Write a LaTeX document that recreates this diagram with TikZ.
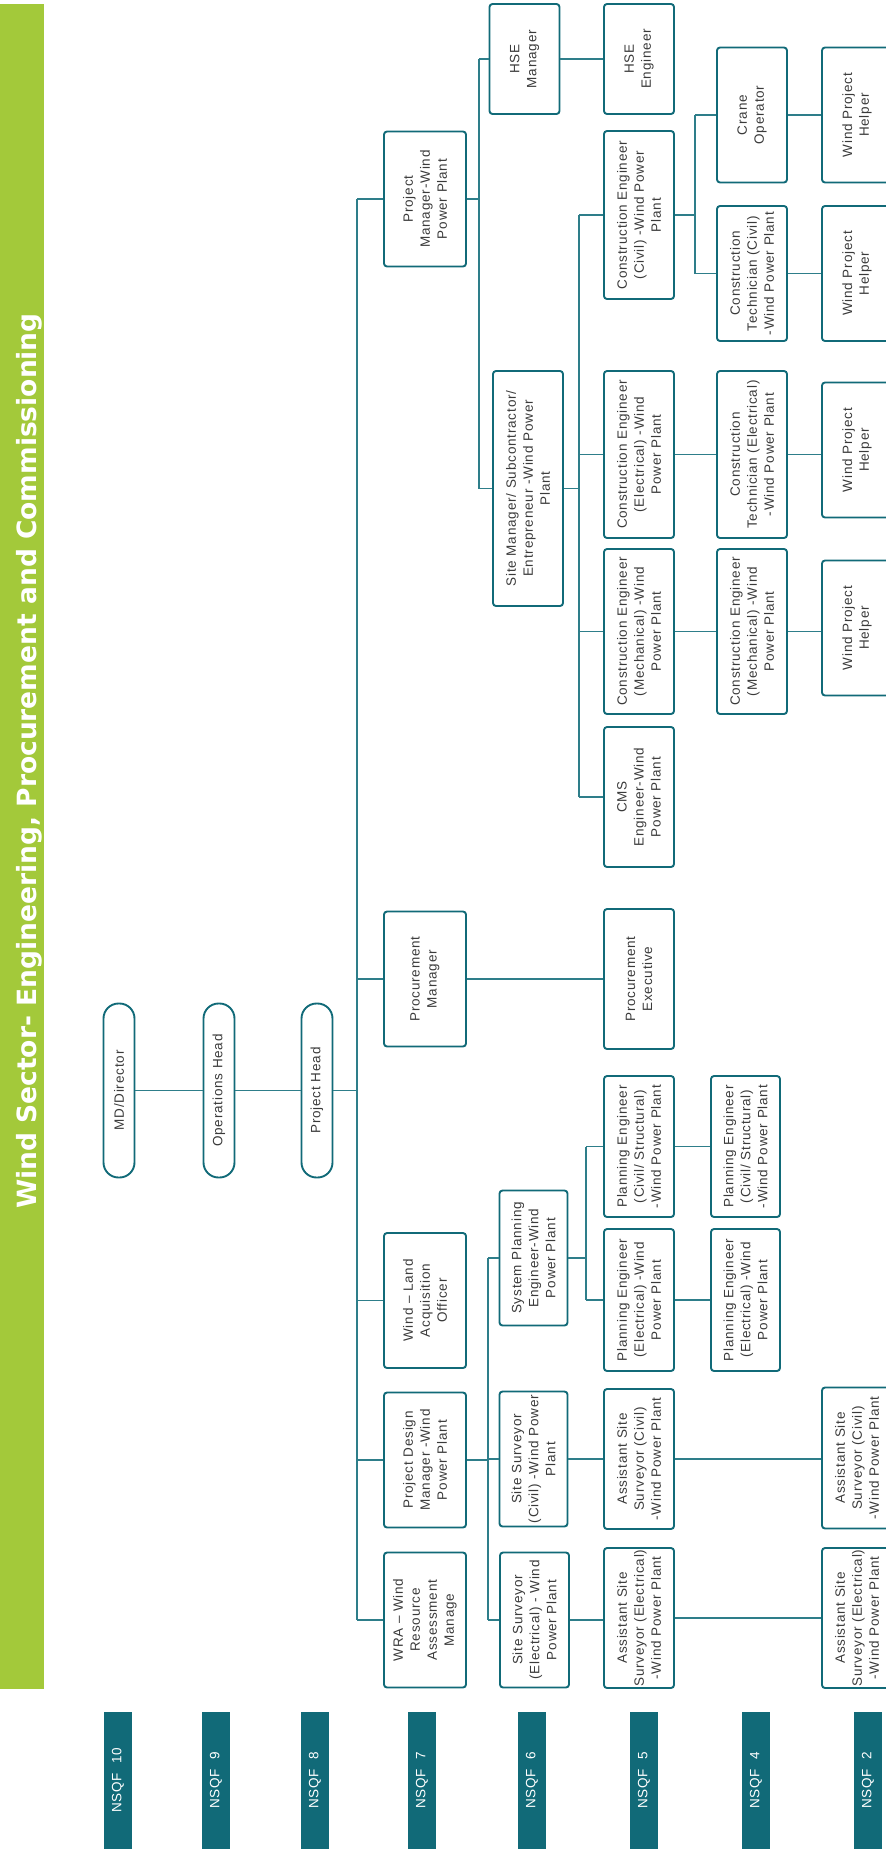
\documentclass[tikz,border=0pt]{standalone}
\usepackage{fontspec}
\setmainfont{Liberation Sans}
\newfontfamily\rolefam{Liberation Sans}[LetterSpace=6]
\newfontfamily\titlefam{DejaVu Sans}
\usepackage{tikz}
\usepackage{xcolor}
\definecolor{nsqfteal}{HTML}{116A78}
\definecolor{linkteal}{HTML}{2E7E8A}
\definecolor{bargreen}{HTML}{A3C93A}
\definecolor{rolegray}{HTML}{3A3A3A}

\begin{document}
\begin{tikzpicture}[x=1pt, y=-1pt, every node/.style={font=\rolefam\fontsize{13.5}{17}\selectfont}]
\tikzstyle{role}=[draw=nsqfteal, line width=1.9pt, rounded corners=3pt, rotate=90, align=center, inner sep=1pt, text=rolegray, minimum width=135pt, minimum height=70pt]
\tikzstyle{pill}=[role, minimum width=174pt, minimum height=31pt, rounded corners=15pt]
\tikzstyle{level}=[fill=nsqfteal, rotate=90, text=white, inner sep=0pt, minimum width=137pt, minimum height=28pt]
\tikzstyle{link}=[draw=linkteal, line width=1.1pt]
\useasboundingbox (0,0) rectangle (886,1856);
\fill[bargreen] (0,4) rectangle (44,1689);
\node[rotate=90, anchor=base west, inner sep=0pt, text=white, font=\titlefam\fontsize{26.5}{28}\bfseries\selectfont] (title) at (36,1209) {Wind Sector- Engineering, Procurement and Commissioning};
\node[level] (q10) at (118,1780.5) {NSQF~ 10};
\node[level] (q9) at (216,1780.5) {NSQF~ 9};
\node[level] (q8) at (315,1780.5) {NSQF~ 8};
\node[level] (q7) at (422,1780.5) {NSQF~ 7};
\node[level] (q6) at (532,1780.5) {NSQF~ 6};
\node[level] (q5) at (644,1780.5) {NSQF~ 5};
\node[level] (q4) at (756,1780.5) {NSQF~ 4};
\node[level] (q2) at (868,1780.5) {NSQF~ 2};
\node[pill] (md) at (119,1090.5) {MD/Director};
\node[pill] (ops) at (219,1090.5) {Operations Head};
\node[pill] (ph) at (317,1090.5) {Project Head};
\node[role, minimum height=82pt] (pm) at (425,199) {Project\\Manager-Wind\\Power Plant};
\node[role, minimum height=82pt] (procm) at (425,979) {Procurement\\Manager};
\node[role, minimum height=82pt] (wlao) at (425,1300.5) {Wind – Land\\Acquisition\\Officer};
\node[role, minimum height=82pt] (pdm) at (425,1460) {Project Design\\Manager -Wind\\Power Plant};
\node[role, minimum height=82pt] (wra) at (425,1620) {WRA – Wind\\Resource\\Assessment\\Manage};
\node[role, minimum width=110pt] (hse) at (524.5,59) {HSE\\Manager};
\node[role, minimum width=235pt] (sm) at (528,488.5) {Site Manager/ Subcontractor/\\Entrepreneur -Wind Power\\Plant};
\node[role, minimum height=68pt] (spe) at (533.5,1258) {System Planning\\Engineer-Wind\\Power Plant};
\node[role, minimum height=68pt] (ssc) at (533.5,1459) {Site Surveyor\\(Civil) -Wind Power\\Plant};
\node[role, minimum height=69pt] (sse) at (534.5,1620) {Site Surveyor\\(Electrical) - Wind\\Power Plant};
\node[role, minimum width=110pt] (hsee) at (639,59) {HSE\\Engineer};
\node[role, minimum width=168pt] (cec) at (639,215) {Construction Engineer\\(Civil) -Wind Power\\Plant};
\node[role, minimum width=167pt] (cee) at (639,454.5) {Construction Engineer\\(Electrical) -Wind\\Power Plant};
\node[role, minimum width=165pt] (cem) at (639,631.5) {Construction Engineer\\(Mechanical) -Wind\\Power Plant};
\node[role, minimum width=140pt] (cms) at (639,797) {CMS\\Engineer-Wind\\Power Plant};
\node[role, minimum width=140pt] (pe) at (639,979) {Procurement\\Executive};
\node[role, minimum width=141pt] (pec) at (639,1146.5) {Planning Engineer\\(Civil/ Structural)\\-Wind Power Plant};
\node[role, minimum width=142pt] (pee) at (639,1300) {Planning Engineer\\(Electrical) -Wind\\Power Plant};
\node[role, minimum width=140pt] (asc) at (639,1459) {Assistant Site\\Surveyor (Civil)\\-Wind Power Plant};
\node[role, minimum width=140pt] (ase) at (639,1618) {Assistant Site\\Surveyor (Electrical)\\-Wind Power Plant};
\node[role] (crane) at (752,115) {Crane\\Operator};
\node[role] (tcc) at (752,273.5) {Construction\\Technician (Civil)\\-Wind Power Plant};
\node[role, minimum width=167pt] (tce) at (752,454.5) {Construction\\Technician (Electrical)\\-Wind Power Plant};
\node[role, minimum width=165pt] (tcm) at (752,631.5) {Construction Engineer\\(Mechanical) -Wind\\Power Plant};
\node[role, minimum width=141pt, minimum height=69pt] (pec2) at (745.5,1146.5) {Planning Engineer\\(Civil/ Structural)\\-Wind Power Plant};
\node[role, minimum width=142pt, minimum height=69pt] (pee2) at (745.5,1300) {Planning Engineer\\(Electrical) -Wind\\Power Plant};
\node[role] (h1) at (857,115) {Wind Project\\Helper};
\node[role] (h2) at (857,273.5) {Wind Project\\Helper};
\node[role] (h3) at (857,450) {Wind Project\\Helper};
\node[role] (h4) at (857,628) {Wind Project\\Helper};
\node[role, minimum width=141pt] (asc2) at (857,1458) {Assistant Site\\Surveyor (Civil)\\-Wind Power Plant};
\node[role, minimum width=140pt] (ase2) at (857,1618) {Assistant Site\\Surveyor (Electrical)\\-Wind Power Plant};
\coordinate (spine) at (357,0);
\coordinate (hsebus) at (479,0);
\coordinate (pdmbus) at (488,0);
\coordinate (smbus) at (579,0);
\coordinate (spebus) at (586,0);
\coordinate (cecbus) at (695,0);
\draw[link] (md.south) -- (ops.north);
\draw[link] (ops.south) -- (ph.north);
\draw[link] (ph.south) -- (ph.south -| spine);
\draw[link] (pm.north -| spine) -- (wra.north -| spine);
\draw[link] (pm.north) -- (pm.north -| spine);
\draw[link] (procm.north) -- (procm.north -| spine);
\draw[link] (wlao.north) -- (wlao.north -| spine);
\draw[link] (pdm.north) -- (pdm.north -| spine);
\draw[link] (wra.north) -- (wra.north -| spine);
\draw[link] (pm.south) -- (pm.south -| hsebus);
\draw[link] (hse.north -| hsebus) -- (sm.north -| hsebus);
\draw[link] (hse.north) -- (hse.north -| hsebus);
\draw[link] (sm.north) -- (sm.north -| hsebus);
\draw[link] (hse.south) -- (hsee.north);
\draw[link] (procm.south) -- (pe.north);
\draw[link] (pdm.south) -- (pdm.south -| pdmbus);
\draw[link] (spe.north -| pdmbus) -- (sse.north -| pdmbus);
\draw[link] (spe.north) -- (spe.north -| pdmbus);
\draw[link] (ssc.north) -- (ssc.north -| pdmbus);
\draw[link] (sse.north) -- (sse.north -| pdmbus);
\draw[link] (sm.south) -- (sm.south -| smbus);
\draw[link] (cec.north -| smbus) -- (cms.north -| smbus);
\draw[link] (cec.north) -- (cec.north -| smbus);
\draw[link] (cee.north) -- (cee.north -| smbus);
\draw[link] (cem.north) -- (cem.north -| smbus);
\draw[link] (cms.north) -- (cms.north -| smbus);
\draw[link] (spe.south) -- (spe.south -| spebus);
\draw[link] (pec.north -| spebus) -- (pee.north -| spebus);
\draw[link] (pec.north) -- (pec.north -| spebus);
\draw[link] (pee.north) -- (pee.north -| spebus);
\draw[link] (ssc.south) -- (ssc.south -| asc.north);
\draw[link] (sse.south) -- (sse.south -| ase.north);
\draw[link] (cec.south) -- (cec.south -| cecbus);
\draw[link] (crane.north -| cecbus) -- (tcc.north -| cecbus);
\draw[link] (crane.north) -- (crane.north -| cecbus);
\draw[link] (tcc.north) -- (tcc.north -| cecbus);
\draw[link] (cee.south) -- (tce.north);
\draw[link] (cem.south) -- (tcm.north);
\draw[link] (pec.south) -- (pec2.north);
\draw[link] (pee.south) -- (pee2.north);
\draw[link] (crane.south) -- (h1.north);
\draw[link] (tcc.south) -- (h2.north);
\draw[link] (tce.south) -- (tce.south -| h3.north);
\draw[link] (tcm.south) -- (tcm.south -| h4.north);
\draw[link] (asc.south) -- (asc.south -| asc2.north);
\draw[link] (ase.south) -- (ase.south -| ase2.north);
\end{tikzpicture}
\end{document}
